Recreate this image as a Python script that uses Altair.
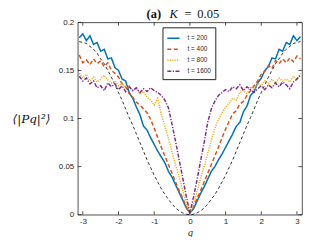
import altair as alt
import pandas as pd

q = [-3.1, -3.0, -2.9, -2.8, -2.7, -2.6, -2.5, -2.4, -2.3, -2.2, -2.1, -2.0,
     -1.9, -1.8, -1.7, -1.6, -1.5, -1.4, -1.3, -1.2, -1.1, -1.0,
     -0.9, -0.8, -0.7, -0.6, -0.5, -0.4, -0.3, -0.2, -0.1, 0.0,
     0.1, 0.2, 0.3, 0.4, 0.5, 0.6, 0.7, 0.8, 0.9, 1.0,
     1.1, 1.2, 1.3, 1.4, 1.5, 1.6, 1.7, 1.8, 1.9, 2.0,
     2.1, 2.2, 2.3, 2.4, 2.5, 2.6, 2.7, 2.8, 2.9, 3.0, 3.1]

t200 = [0.184, 0.188, 0.181, 0.186, 0.177, 0.179, 0.170, 0.172, 0.162, 0.163, 0.153, 0.150,
        0.141, 0.139, 0.127, 0.121, 0.112, 0.104, 0.092, 0.088, 0.080, 0.073,
        0.066, 0.060, 0.054, 0.045, 0.039, 0.031, 0.023, 0.015, 0.007, 0.002,
        0.006, 0.014, 0.022, 0.029, 0.037, 0.045, 0.050, 0.057, 0.063, 0.070,
        0.077, 0.084, 0.092, 0.096, 0.107, 0.113, 0.124, 0.128, 0.137, 0.142,
        0.150, 0.154, 0.163, 0.162, 0.172, 0.170, 0.179, 0.177, 0.186, 0.181, 0.185]

t400 = [0.166, 0.158, 0.161, 0.156, 0.162, 0.157, 0.160, 0.154, 0.158, 0.150, 0.147, 0.143,
        0.136, 0.133, 0.126, 0.122, 0.117, 0.114, 0.110, 0.106, 0.099, 0.090,
        0.080, 0.070, 0.061, 0.052, 0.043, 0.034, 0.025, 0.017, 0.008, 0.002,
        0.008, 0.017, 0.025, 0.034, 0.043, 0.052, 0.061, 0.070, 0.080, 0.089,
        0.097, 0.105, 0.108, 0.115, 0.118, 0.124, 0.129, 0.134, 0.139, 0.146,
        0.149, 0.155, 0.152, 0.160, 0.157, 0.162, 0.158, 0.163, 0.159, 0.165, 0.162]

t800 = [0.147, 0.142, 0.146, 0.139, 0.143, 0.138, 0.141, 0.145, 0.140, 0.137, 0.139, 0.134,
        0.137, 0.132, 0.134, 0.129, 0.131, 0.126, 0.128, 0.122, 0.119, 0.114,
        0.121, 0.104, 0.092, 0.079, 0.065, 0.052, 0.039, 0.025, 0.012, 0.002,
        0.011, 0.024, 0.038, 0.050, 0.064, 0.077, 0.090, 0.099, 0.106, 0.112,
        0.116, 0.121, 0.119, 0.127, 0.129, 0.126, 0.133, 0.130, 0.137, 0.134,
        0.139, 0.136, 0.141, 0.137, 0.142, 0.139, 0.141, 0.138, 0.144, 0.141, 0.147]

t1600 = [0.144, 0.139, 0.142, 0.136, 0.139, 0.132, 0.134, 0.129, 0.137, 0.133, 0.136, 0.130,
         0.134, 0.128, 0.133, 0.129, 0.132, 0.127, 0.131, 0.128, 0.132, 0.129,
         0.127, 0.124, 0.119, 0.111, 0.094, 0.076, 0.057, 0.038, 0.019, 0.002,
         0.018, 0.036, 0.056, 0.075, 0.096, 0.110, 0.118, 0.124, 0.127, 0.130,
         0.128, 0.133, 0.131, 0.135, 0.129, 0.133, 0.130, 0.127, 0.131, 0.134,
         0.130, 0.135, 0.132, 0.137, 0.133, 0.138, 0.135, 0.131, 0.138, 0.141, 0.145]

reference = [0.180, 0.179, 0.178, 0.175, 0.172, 0.168, 0.162, 0.157, 0.150, 0.143, 0.135, 0.127,
             0.119, 0.110, 0.101, 0.093, 0.084, 0.075, 0.066, 0.057, 0.049, 0.041,
             0.034, 0.027, 0.021, 0.016, 0.011, 0.007, 0.004, 0.0018, 0.0005, 0.0,
             0.0005, 0.0018, 0.004, 0.007, 0.011, 0.016, 0.021, 0.027, 0.034, 0.041,
             0.049, 0.057, 0.066, 0.075, 0.084, 0.093, 0.101, 0.110, 0.119, 0.127,
             0.135, 0.143, 0.150, 0.157, 0.162, 0.168, 0.172, 0.175, 0.178, 0.179, 0.180]

series_names = ["t = 200", "t = 400", "t = 800", "t = 1600"]
series_colors = ["#0072BD", "#D95319", "#EDB120", "#7E2F8E"]
series_dashes = [[1, 0], [4, 2.5], [1.2, 1.2], [4, 1.5, 1.2, 1.5]]

x_ticks = [-3, -2, -1, 0, 1, 2, 3]
y_ticks = [0, 0.05, 0.1, 0.15, 0.2]

QMIN, QMAX = -3.14159, 3.14159

rows = []
for name, vals in zip(series_names, [t200, t400, t800, t1600]):
    for qq, v in zip(q, vals):
        rows.append({"q": qq, "v": v, "series": name})
df = pd.DataFrame(rows)
ref_df = pd.DataFrame({"q": q, "v": reference})

xs = alt.Scale(domain=[QMIN, QMAX], nice=False, zero=False)
ys = alt.Scale(domain=[0, 0.2], nice=False)

AX = dict(grid=False, domain=False, ticks=False, labelFont="Liberation Sans",
          labelFontSize=8, labelColor="#262626")

x_axis = alt.Axis(values=x_ticks, title="q", titleFont="Liberation Serif",
                  titleFontStyle="italic", titleFontWeight="normal", titleFontSize=10,
                  titleColor="#262626", titlePadding=2, labelPadding=3,
                  labelExpr="datum.value < 0 ? '-' + format(-datum.value, 'd') : format(datum.value, 'd')",
                  **AX)
y_axis = alt.Axis(values=y_ticks, format="~g", title="⟨|Pq|²⟩", titleAngle=0,
                  titleFont="DejaVu Serif", titleFontStyle="italic",
                  titleFontWeight="normal", titleFontSize=12, titleColor="#111",
                  titleAlign="center", titleBaseline="middle", titleX=-47, titleY=96,
                  labelPadding=4, **AX)

ref_line = alt.Chart(ref_df).mark_line(color="black", strokeDash=[3, 2.5], strokeWidth=0.8).encode(
    x=alt.X("q:Q", scale=xs, axis=x_axis),
    y=alt.Y("v:Q", scale=ys, axis=y_axis),
)

lines = alt.Chart(df).mark_line(strokeWidth=1.5, clip=True).encode(
    x=alt.X("q:Q", scale=xs, axis=x_axis),
    y=alt.Y("v:Q", scale=ys, axis=y_axis),
    color=alt.Color("series:N", scale=alt.Scale(domain=series_names, range=series_colors),
                    sort=series_names, legend=alt.Legend(title=None)),
    strokeDash=alt.StrokeDash("series:N", scale=alt.Scale(domain=series_names, range=series_dashes),
                              sort=series_names, legend=alt.Legend(title=None)),
    order=alt.Order("q:Q"),
)

tick_len_y = 0.0035
tick_len_x = 0.1
xb = pd.DataFrame({"q": x_ticks, "a": [0] * len(x_ticks), "b": [tick_len_y] * len(x_ticks)})
xt = pd.DataFrame({"q": x_ticks, "a": [0.2 - tick_len_y] * len(x_ticks), "b": [0.2] * len(x_ticks)})
yl = pd.DataFrame({"v": y_ticks, "a": [QMIN] * len(y_ticks), "b": [QMIN + tick_len_x] * len(y_ticks)})
yr = pd.DataFrame({"v": y_ticks, "a": [QMAX - tick_len_x] * len(y_ticks), "b": [QMAX] * len(y_ticks)})

def xtick(d):
    return alt.Chart(d).mark_rule(color="#262626", strokeWidth=0.8).encode(
        x=alt.X("q:Q", scale=xs, axis=x_axis), y=alt.Y("a:Q", scale=ys, axis=y_axis), y2="b:Q")

def ytick(d):
    return alt.Chart(d).mark_rule(color="#262626", strokeWidth=0.8).encode(
        y=alt.Y("v:Q", scale=ys, axis=y_axis), x=alt.X("a:Q", scale=xs, axis=x_axis), x2="b:Q")

def title_text(txt, x, **kw):
    return alt.Chart(pd.DataFrame({"t": [txt]})).mark_text(
        font="Liberation Serif", fontSize=12.5, align="left", baseline="alphabetic",
        color="#111", **kw).encode(text="t:N", x=alt.value(x), y=alt.value(-4))

title_a = title_text("(a)", 69, fontWeight="bold")
title_k = title_text("K", 92, fontStyle="italic")
title_eq = title_text("=", 107)
title_v = title_text("0.05", 120)

chart = alt.layer(
    ref_line, lines, xtick(xb), xtick(xt), ytick(yl), ytick(yr),
    title_a, title_k, title_eq, title_v
).properties(
    width=225, height=193,
    autosize=alt.AutoSizeParams(type="none"),
    padding={"left": 70, "top": 14, "right": 2, "bottom": 22},
).configure_view(
    stroke="#262626", strokeWidth=0.8
).configure_legend(
    orient="none", legendX=85, legendY=5, strokeColor="#262626", fillColor="white",
    padding=4, symbolType="stroke", symbolSize=150, symbolStrokeWidth=1.5,
    labelFont="Liberation Sans", labelFontSize=6.5, labelColor="#262626", rowPadding=0,
    labelOffset=7,
)

chart.save("out.html", embed_options={"renderer": "svg", "actions": False})
